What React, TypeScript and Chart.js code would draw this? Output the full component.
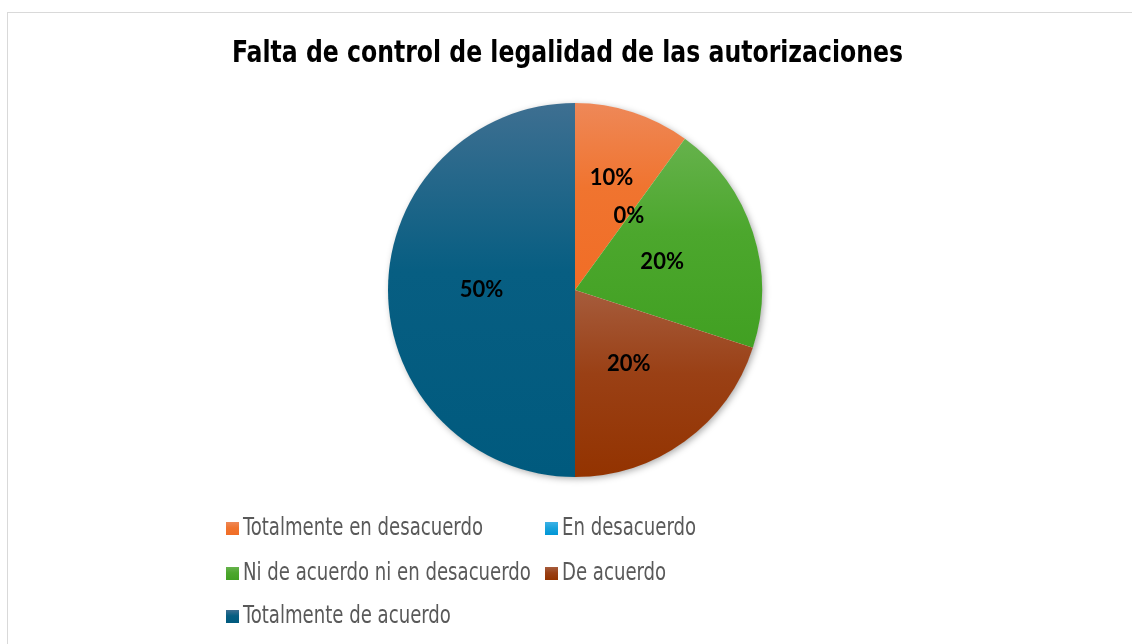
import React, { useEffect, useRef } from "react";
import { Chart, registerables } from "chart.js";

Chart.register(...registerables);

const TITLE = "Falta de control de legalidad de las autorizaciones";
const CATEGORIES = [
  "Totalmente en desacuerdo",
  "En desacuerdo",
  "Ni de acuerdo ni en desacuerdo",
  "De acuerdo",
  "Totalmente de acuerdo",
];
const VALUES = [10, 0, 20, 20, 50];
const TOP_COLORS = ["#EE8858", "#3DB2E6", "#66B24C", "#A65C3C", "#3E6F91"];
const MID_COLORS = ["#F0742F", "#1AA3DC", "#4CA72D", "#9A4015", "#075E82"];
const BOTTOM_COLORS = ["#F16D26", "#0096D6", "#41A022", "#933300", "#005A7E"];

const LABEL_RADIUS = [0.63, 0.49, 0.49, 0.49, 0.5];
const LEGEND_COLS = [226, 545];
const LEGEND_ROWS = [535, 580, 623];

const W = 1132;
const H = 644;

function sliceGradient(context: any) {
  const chart = context.chart;
  const i = context.dataIndex;
  const area = chart.chartArea;
  if (!area || i === undefined) return BOTTOM_COLORS[i ?? 0];
  const cx = (area.left + area.right) / 2;
  const cy = (area.top + area.bottom) / 2;
  const r = Math.min(area.right - area.left, area.bottom - area.top) / 2;
  const total = VALUES.reduce((a, b) => a + b, 0);
  let before = 0;
  for (let k = 0; k < i; k++) before += VALUES[k];
  const a0 = -Math.PI / 2 + (before / total) * 2 * Math.PI;
  const a1 = a0 + (VALUES[i] / total) * 2 * Math.PI;
  const within = (t: number) => {
    for (let k = -1; k <= 2; k++) {
      const tt = t + 2 * Math.PI * k;
      if (tt >= a0 && tt <= a1) return true;
    }
    return false;
  };
  let top = Math.min(cy, cy + r * Math.sin(a0), cy + r * Math.sin(a1));
  let bottom = Math.max(cy, cy + r * Math.sin(a0), cy + r * Math.sin(a1));
  if (within(-Math.PI / 2)) top = cy - r;
  if (within(Math.PI / 2)) bottom = cy + r;
  if (bottom - top < 1) bottom = top + 1;
  const g = chart.ctx.createLinearGradient(0, top, 0, bottom);
  g.addColorStop(0, TOP_COLORS[i]);
  g.addColorStop(0.45, MID_COLORS[i]);
  g.addColorStop(1, BOTTOM_COLORS[i]);
  return g;
}

const shadowPlugin = {
  id: "pieShadow",
  beforeDatasetsDraw(chart: any) {
    const meta = chart.getDatasetMeta(0);
    const el = meta.data[0];
    if (!el) return;
    const { x, y, outerRadius } = el.getProps(["x", "y", "outerRadius"], true);
    const c = chart.ctx;
    c.save();
    c.shadowColor = "rgba(0,0,0,0.35)";
    c.shadowBlur = 7;
    c.shadowOffsetX = 2;
    c.shadowOffsetY = 2;
    c.fillStyle = "#ffffff";
    c.beginPath();
    c.arc(x, y, outerRadius - 0.5, 0, Math.PI * 2);
    c.fill();
    c.restore();
  },
};

const decorPlugin = {
  id: "decor",
  afterDraw(chart: any) {
    const c = chart.ctx;
    // Title
    c.save();
    c.font = "bold 31px 'Liberation Sans Narrow', 'DejaVu Sans Condensed', 'Liberation Sans', sans-serif";
    c.fillStyle = "#000000";
    c.textAlign = "center";
    c.textBaseline = "alphabetic";
    const tw = c.measureText(TITLE).width;
    c.translate(567.5, 62);
    c.scale(671 / tw, 1);
    c.fillText(TITLE, 0, 0);
    c.restore();

    // Data labels
    const meta = chart.getDatasetMeta(0);
    const total = VALUES.reduce((a, b) => a + b, 0);
    c.save();
    c.font = "bold 22px Lato, 'Open Sans', sans-serif";
    c.fillStyle = "#000000";
    c.textAlign = "center";
    c.textBaseline = "middle";
    meta.data.forEach((el: any, i: number) => {
      const p = el.getProps(["x", "y", "startAngle", "endAngle", "outerRadius"], true);
      const mid = (p.startAngle + p.endAngle) / 2;
      const rr = p.outerRadius * LABEL_RADIUS[i];
      const lx = p.x + Math.cos(mid) * rr;
      const ly = p.y + Math.sin(mid) * rr;
      const pct = Math.round((VALUES[i] / total) * 100) + "%";
      c.fillText(pct, lx, ly);
    });
    c.restore();

    // Legend
    c.save();
    c.font = "24px 'Liberation Sans Narrow', 'DejaVu Sans Condensed', 'Liberation Sans', sans-serif";
    const sx = 240 / c.measureText(CATEGORIES[0]).width;
    CATEGORIES.forEach((name, i) => {
      const x = LEGEND_COLS[i % 2];
      const base = LEGEND_ROWS[Math.floor(i / 2)];
      const g = c.createLinearGradient(0, base - 13, 0, base);
      g.addColorStop(0, TOP_COLORS[i]);
      g.addColorStop(0.45, MID_COLORS[i]);
      g.addColorStop(1, BOTTOM_COLORS[i]);
      c.fillStyle = g;
      c.fillRect(x, base - 13, 13, 13);
      c.save();
      c.translate(x + 17, base);
      c.scale(sx, 1);
      c.fillStyle = "#595959";
      c.textAlign = "left";
      c.textBaseline = "alphabetic";
      c.fillText(name, 0, 0);
      c.restore();
    });
    c.restore();
  },
};

export default function App() {
  const ref = useRef<HTMLCanvasElement | null>(null);
  useEffect(() => {
    if (!ref.current) return;
    const chart = new Chart(ref.current, {
      type: "pie",
      data: {
        labels: CATEGORIES,
        datasets: [
          {
            data: VALUES,
            backgroundColor: sliceGradient as any,
            borderWidth: 0,
            hoverOffset: 0,
            offset: 0,
          },
        ],
      },
      options: {
        responsive: false,
        animation: false,
        events: [],
        devicePixelRatio: 1,
        layout: { padding: { top: 103, bottom: H - 477, left: 18, right: 0 } },
        plugins: {
          title: { display: false },
          legend: { display: false },
          tooltip: { enabled: false },
        },
      },
      plugins: [shadowPlugin, decorPlugin],
    });
    return () => chart.destroy();
  }, []);

  return (
    <div style={{ position: "fixed", left: 0, top: 0, width: W, height: H, background: "#ffffff", overflow: "hidden" }}>
      <div
        style={{
          position: "absolute",
          left: 7,
          top: 12,
          width: W + 20,
          height: H + 20,
          border: "1px solid #d9d9d9",
          boxSizing: "border-box",
        }}
      />
      <canvas ref={ref} width={W} height={H} style={{ position: "absolute", left: 0, top: 0, width: W, height: H }} />
    </div>
  );
}
